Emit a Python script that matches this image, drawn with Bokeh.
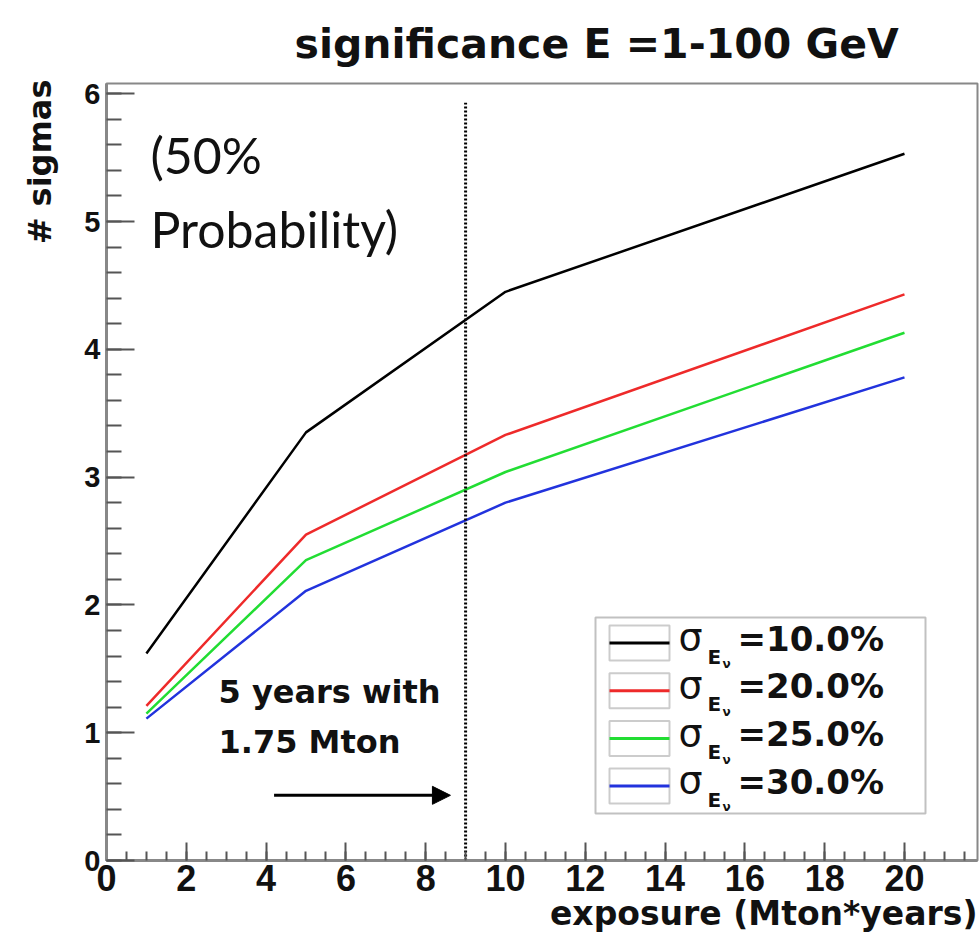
from bokeh.plotting import figure
from bokeh.models import (Range1d, SingleIntervalTicker, Label, BoxAnnotation,
                          Arrow, NormalHead, Title)
from bokeh.embed import file_html
from bokeh.resources import INLINE

# ---------------- data ----------------
exposure = [1, 5, 10, 20]
sig_10 = [1.62, 3.35, 4.45, 5.53]
sig_20 = [1.21, 2.55, 3.33, 4.43]
sig_25 = [1.15, 2.35, 3.04, 4.13]
sig_30 = [1.11, 2.11, 2.80, 3.78]
series = [sig_10, sig_20, sig_25, sig_30]
series_labels = ["=10.0%", "=20.0%", "=25.0%", "=30.0%"]
series_colors = ["#000000", "#ee2a2a", "#22dd33", "#2233dd"]

x_range_max = 21.83
y_range_max = 6.08
marker_x = 9.0          # 5 years with 1.75 Mton
marker_top = 5.93
arrow_x_start = 4.2
arrow_x_end = 8.62
arrow_y = 0.51

# ---------------- layout ----------------
W, H = 979, 946
FL, FR, FT, FB = 104, 977, 83, 860   # frame edges in page pixels

p = figure(width=W, height=H,
           x_range=Range1d(0, x_range_max), y_range=Range1d(0, y_range_max),
           output_backend="svg", toolbar_location=None,
           min_border_left=FL, min_border_right=W - FR,
           min_border_top=FT, min_border_bottom=H - FB)
p.grid.visible = False
p.outline_line_color = "#888888"
p.outline_line_width = 2
p.background_fill_color = "white"

# axes
p.xaxis.ticker = SingleIntervalTicker(interval=2, num_minor_ticks=4)
p.yaxis.ticker = SingleIntervalTicker(interval=1, num_minor_ticks=5)
for ax in (p.xaxis, p.yaxis):
    ax.axis_line_color = "#888888"
    ax.axis_line_width = 3
    ax.major_tick_line_color = "#555555"
    ax.minor_tick_line_color = "#555555"
    ax.major_tick_line_width = 2
    ax.minor_tick_line_width = 2
    ax.major_tick_out = 0
    ax.minor_tick_out = 0
    ax.major_label_text_font = "Liberation Sans"
    ax.major_label_text_font_style = "bold"
    ax.major_label_text_color = "#111111"
p.xaxis.major_tick_in = 18
p.xaxis.minor_tick_in = 9
p.yaxis.major_tick_in = 28
p.yaxis.minor_tick_in = 15
p.xaxis.major_label_text_font_size = "36px"
p.yaxis.major_label_text_font_size = "29px"
p.xaxis.major_label_standoff = 4
p.yaxis.major_label_standoff = 6

# title (above frame)
p.title.text = "significance E =1-100  GeV"
p.title.text_font = "DejaVu Sans"
p.title.text_font_style = "bold"
p.title.text_font_size = "41px"
p.title.text_color = "#111111"
p.title.align = "left"
p.title.offset = 188
p.title.vertical_align = "bottom"
p.title.standoff = 31

# axis titles as side titles
p.add_layout(Title(text="exposure (Mton*years)", align="right", vertical_align="top",
                   standoff=0, text_font="DejaVu Sans", text_font_style="bold",
                   text_font_size="33px", text_color="#111111"), "below")
p.add_layout(Title(text="# sigmas", align="right", vertical_align="top",
                   standoff=41, offset=-4, text_font="DejaVu Sans",
                   text_font_style="bold", text_font_size="32px",
                   text_color="#111111"), "left")

# curves
for ys, col in zip(series, series_colors):
    p.line(exposure, ys, line_color=col, line_width=2.5)

# vertical dotted marker
p.segment(x0=[marker_x], y0=[0], x1=[marker_x], y1=[marker_top],
          line_color="black", line_width=3, line_dash="2 2")

# arrow
p.add_layout(Arrow(end=NormalHead(size=18, fill_color="black", line_color="black"),
                   x_start=arrow_x_start, y_start=arrow_y,
                   x_end=arrow_x_end, y_end=arrow_y,
                   line_color="black", line_width=3))


def sx(px):
    return px - FL


def sy(py):
    return FB - py


def lab(text, px, base_py, size, font="DejaVu Sans", style="bold",
        color="#111111", k=0.35):
    # place text so that its baseline sits at page row base_py
    mid_py = base_py - k * size
    p.add_layout(Label(x=sx(px), y=sy(mid_py), x_units="screen", y_units="screen",
                       text=text, text_font=font, text_font_size=f"{size}px",
                       text_font_style=style, text_align="left",
                       text_baseline="middle", text_color=color))


# annotations inside the frame
lab("(50%", 148, 173, 50, font="Lato", style="normal", k=0.38)
lab("Probability)", 148, 247, 50, font="Lato", style="normal", k=0.38)
lab("5 years with", 216, 703, 32)
lab("1.75 Mton", 216, 753, 32)

# legend (ROOT style)
p.add_layout(BoxAnnotation(left=sx(593), right=sx(923), top=sy(617), bottom=sy(813),
                           left_units="screen", right_units="screen",
                           top_units="screen", bottom_units="screen",
                           fill_color="white", fill_alpha=1.0,
                           line_color="#333333", line_width=2))
row_h = 47.7
for i, (txt, col) in enumerate(zip(series_labels, series_colors)):
    off = i * row_h
    p.add_layout(BoxAnnotation(left=sx(607), right=sx(667), top=sy(625 + off),
                               bottom=sy(660 + off),
                               left_units="screen", right_units="screen",
                               top_units="screen", bottom_units="screen",
                               fill_color="white", fill_alpha=1.0,
                               line_color="#555555", line_width=2))
    p.add_layout(BoxAnnotation(left=sx(607), right=sx(667), top=sy(641 + off),
                               bottom=sy(644 + off),
                               left_units="screen", right_units="screen",
                               top_units="screen", bottom_units="screen",
                               fill_color=col, fill_alpha=1.0, line_alpha=0))
    lab("σ", 676, 650 + off, 38, style="normal")
    lab("E", 705, 663 + off, 20)
    lab("ν", 720, 668 + off, 12)
    lab(txt, 735, 650 + off, 34)

open("out.html", "w").write(file_html(p, INLINE))
